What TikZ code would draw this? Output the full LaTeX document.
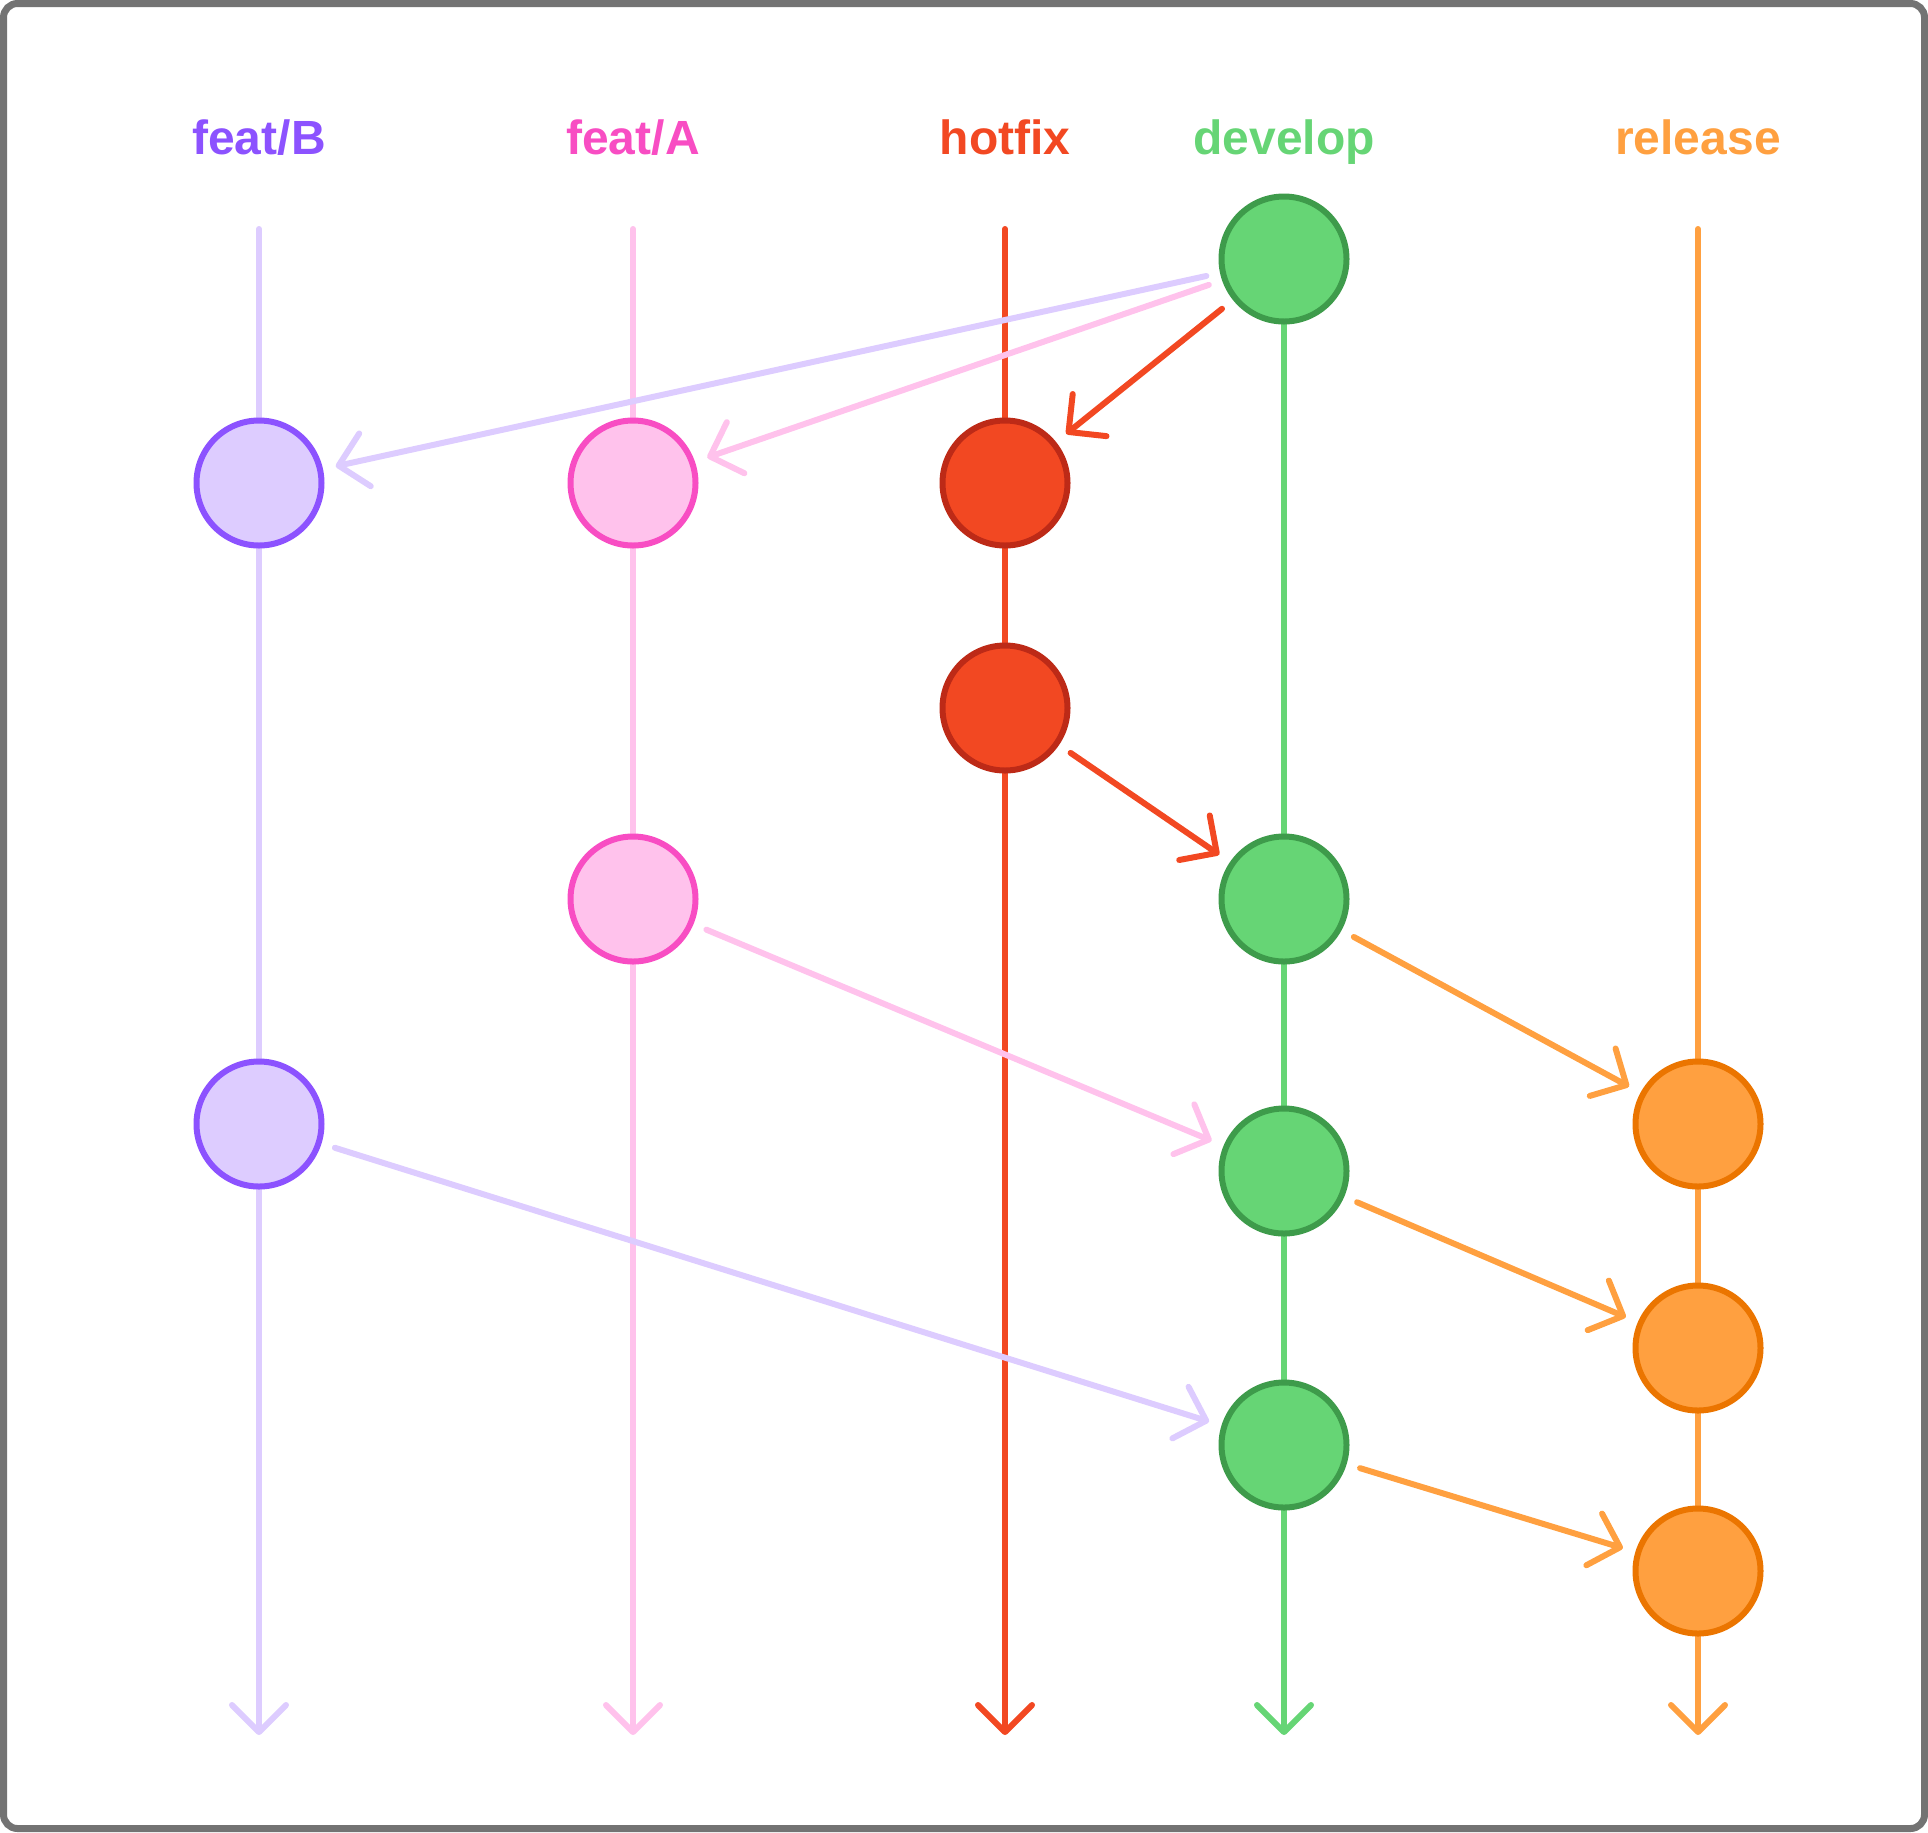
\documentclass[tikz,border=0pt]{standalone}
\usepackage{fontspec}
\setmainfont{Liberation Sans}
\usetikzlibrary{arrows.meta}
\definecolor{lila}{HTML}{DDCCFF}
\definecolor{lilaosc}{HTML}{8C52FF}
\definecolor{rosa}{HTML}{FFC2EC}
\definecolor{rosaosc}{HTML}{F84DC3}
\definecolor{rojo}{HTML}{F24822}
\definecolor{rojoosc}{HTML}{BD2A17}
\definecolor{verde}{HTML}{66D575}
\definecolor{verdeosc}{HTML}{3E9B4B}
\definecolor{naranja}{HTML}{FFA040}
\definecolor{naranjaosc}{HTML}{EB7500}
\definecolor{marco}{HTML}{737373}

\begin{document}
\begin{tikzpicture}[x=1pt, y=-1pt, line cap=round,
    commit/.style={circle, draw, line width=6pt, minimum size=125pt, inner sep=0pt},
    rama/.style={line width=6pt, -{Straight Barb[length=27pt, width=54pt, round]}},
    union/.style={rama, shorten <=14pt, shorten >=13pt},
    etiqueta/.style={font=\fontsize{48pt}{56pt}\selectfont\bfseries, anchor=base}]
    \useasboundingbox (0,0) rectangle (1928,1832);
    \draw[marco, line width=7pt, rounded corners=14pt] (3.5,3.5) rectangle (1924.5,1828.5);
    % ramas
    \foreach \n/\x/\cl/\ce/\t in {fb/259/lila/lilaosc/{feat/B}, fa/633/rosa/rosaosc/{feat/A},
        hf/1005/rojo/rojo/hotfix, dv/1284/verde/verde/develop, rl/1698/naranja/naranja/release} {
      \node[etiqueta, text=\ce] (lbl\n) at (\x,154) {\t};
      \coordinate (top\n) at (\x,229);
      \coordinate (bot\n) at (\x,1735);
      \draw[rama, \cl] (top\n) -- (bot\n);
    }
    % commits
    \node[commit, fill=verde, draw=verdeosc] (dv1) at (1284,259) {};
    \node[commit, fill=lila, draw=lilaosc] (fb1) at (259,483) {};
    \node[commit, fill=rosa, draw=rosaosc] (fa1) at (633,483) {};
    \node[commit, fill=rojo, draw=rojoosc] (hf1) at (1005,483) {};
    \node[commit, fill=rojo, draw=rojoosc] (hf2) at (1005,708) {};
    \node[commit, fill=rosa, draw=rosaosc] (fa2) at (633,899) {};
    \node[commit, fill=verde, draw=verdeosc] (dv2) at (1284,899) {};
    \node[commit, fill=lila, draw=lilaosc] (fb2) at (259,1124) {};
    \node[commit, fill=naranja, draw=naranjaosc] (rl1) at (1698,1124) {};
    \node[commit, fill=verde, draw=verdeosc] (dv3) at (1284,1171) {};
    \node[commit, fill=naranja, draw=naranjaosc] (rl2) at (1698,1348) {};
    \node[commit, fill=verde, draw=verdeosc] (dv4) at (1284,1445) {};
    \node[commit, fill=naranja, draw=naranjaosc] (rl3) at (1698,1571) {};
    % merges
    \draw[union, lila] (dv1) -- (fb1);
    \draw[union, rosa] (dv1) -- (fa1);
    \draw[union, rojo] (dv1) -- (hf1);
    \draw[union, rojo] (hf2) -- (dv2);
    \draw[union, rosa] (fa2) -- (dv3);
    \draw[union, lila] (fb2) -- (dv4);
    \draw[union, naranja] (dv2) -- (rl1);
    \draw[union, naranja] (dv3) -- (rl2);
    \draw[union, naranja] (dv4) -- (rl3);
\end{tikzpicture}
\end{document}
